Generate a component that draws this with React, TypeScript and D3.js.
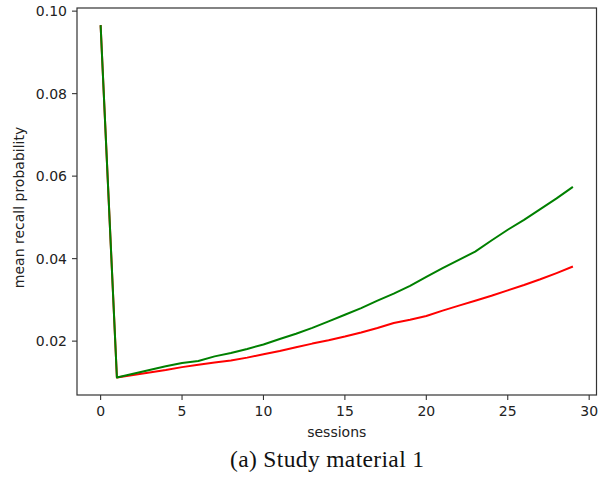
import React from "react";
import * as d3 from "d3";

const sessions = d3.range(0, 30);
const greenValues = [0.0966, 0.0112, 0.0121, 0.0130, 0.0139, 0.0147, 0.0152, 0.0163, 0.0171, 0.0181, 0.0192, 0.0205, 0.0218, 0.0232, 0.0248, 0.0264, 0.0280, 0.0298, 0.0315, 0.0334, 0.0356, 0.0377, 0.0397, 0.0417, 0.0444, 0.0470, 0.0494, 0.0520, 0.0546, 0.0574];
const redValues = [0.0966, 0.0112, 0.0118, 0.0124, 0.0130, 0.0137, 0.0143, 0.0148, 0.0153, 0.0160, 0.0168, 0.0176, 0.0185, 0.0194, 0.0202, 0.0211, 0.0221, 0.0232, 0.0244, 0.0252, 0.0261, 0.0274, 0.0286, 0.0298, 0.0310, 0.0323, 0.0336, 0.0350, 0.0365, 0.0381];
const xTicks = [0, 5, 10, 15, 20, 25, 30];
const yTicks = [0.02, 0.04, 0.06, 0.08, 0.10];
const xLabel = "sessions";
const yLabel = "mean recall probability";
const caption = "(a) Study material 1";

export default function App() {
  const W = 605, H = 477;
  const left = 77, right = 596.5, top = 8, bottom = 395;
  const x = d3.scaleLinear().domain([-1.45, 30.45]).range([left, right]);
  const y = d3.scaleLinear().domain([0.00694, 0.10076]).range([bottom, top]);
  const line = d3.line<number>().x((_, i) => x(sessions[i])).y((d) => y(d));
  const font = "DejaVu Sans, sans-serif";
  return (
    <svg width={W} height={H} style={{ position: "absolute", left: 0, top: 0, background: "#fff" }}>
      <path d={line(redValues) || ""} fill="none" stroke="#ff0000" strokeWidth={2} strokeLinejoin="round" />
      <path d={line(greenValues) || ""} fill="none" stroke="#008000" strokeWidth={2} strokeLinejoin="round" />
      <rect x={left} y={top} width={right - left} height={bottom - top} fill="none" stroke="#333" strokeWidth={1.2} />
      {xTicks.map((t) => (
        <g key={"x" + t}>
          <line x1={x(t)} x2={x(t)} y1={bottom} y2={bottom + 5} stroke="#333" strokeWidth={1.1} />
          <text x={x(t)} y={bottom + 21} fontSize={14} fontFamily={font} textAnchor="middle" fill="#222">{t}</text>
        </g>
      ))}
      {yTicks.map((t) => (
        <g key={"y" + t}>
          <line x1={left - 5} x2={left} y1={y(t)} y2={y(t)} stroke="#333" strokeWidth={1.1} />
          <text x={left - 10} y={y(t) + 5} fontSize={14} fontFamily={font} textAnchor="end" fill="#222">{t.toFixed(2)}</text>
        </g>
      ))}
      <text x={(left + right) / 2} y={437} fontSize={14} fontFamily={font} textAnchor="middle" fill="#222">{xLabel}</text>
      <text transform={`translate(24, ${(top + bottom) / 2 + 6}) rotate(-90)`} fontSize={14} fontFamily={font} textAnchor="middle" fill="#222">{yLabel}</text>
      <text x={230} y={467} fontSize={23.5} fontFamily="Liberation Serif, Times New Roman, serif" textAnchor="start" textLength={194} lengthAdjust="spacing" fill="#111">{caption}</text>
    </svg>
  );
}
